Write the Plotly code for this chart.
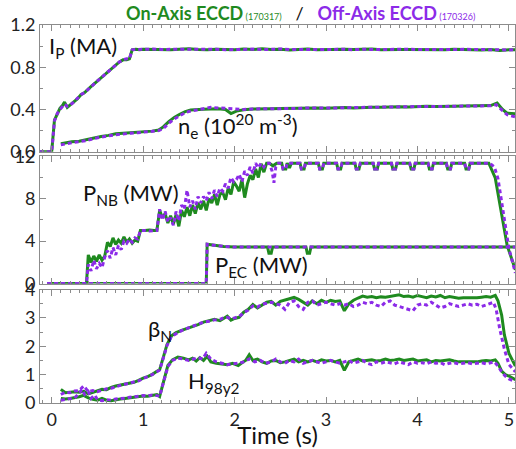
import plotly.graph_objects as go
from plotly.subplots import make_subplots

GREEN = "#1f8a1f"
PURPLE = "#8c2be8"
FONT = "Lato"

# ---------------- plasma current I_P (MA) ----------------
t_ip_on = [-0.13, 0.00, 0.03, 0.06, 0.09, 0.12, 0.14, 0.17, 0.20, 0.24, 0.28, 0.32, 0.36,
           0.42, 0.50, 0.58, 0.66, 0.74, 0.78, 0.82, 0.85, 0.88, 0.92, 0.96,
           1.0, 1.1, 1.2, 1.3, 1.4, 1.5, 1.6, 1.7, 1.8, 1.9, 2.0, 2.1, 2.2, 2.3, 2.4, 2.5,
           2.6, 2.7, 2.8, 2.9, 3.0, 3.1, 3.2, 3.3, 3.4, 3.5, 3.6, 3.7, 3.8, 3.9, 4.0,
           4.1, 4.2, 4.3, 4.4, 4.5, 4.6, 4.7, 4.8, 4.9, 5.0, 5.07]
ip_on = [0.0, 0.0, 0.30, 0.36, 0.41, 0.44, 0.47, 0.42, 0.44, 0.47, 0.50, 0.54, 0.56,
         0.61, 0.67, 0.73, 0.79, 0.85, 0.87, 0.87, 0.88, 0.965, 0.970, 0.965,
         0.970, 0.968, 0.972, 0.966, 0.970, 0.974, 0.968, 0.965, 0.971, 0.969, 0.966,
         0.972, 0.968, 0.975, 0.967, 0.970, 0.964, 0.969, 0.972, 0.966, 0.970, 0.968,
         0.971, 0.967, 0.969, 0.972, 0.966, 0.970, 0.968, 0.969, 0.967, 0.971, 0.968,
         0.966, 0.970, 0.967, 0.969, 0.963, 0.968, 0.958, 0.966, 0.965]

t_ip_off = [-0.13, 0.00, 0.03, 0.06, 0.09, 0.12, 0.14, 0.17, 0.20, 0.24, 0.28, 0.32, 0.36,
            0.42, 0.50, 0.58, 0.66, 0.74, 0.78, 0.82, 0.85, 0.88, 0.92, 0.96,
            1.0, 1.1, 1.2, 1.3, 1.4, 1.5, 1.6, 1.7, 1.8, 1.9, 2.0, 2.1, 2.2, 2.3, 2.4, 2.5,
            2.6, 2.7, 2.8, 2.9, 3.0, 3.1, 3.2, 3.3, 3.4, 3.5, 3.6, 3.7, 3.8, 3.9, 4.0,
            4.1, 4.2, 4.3, 4.4, 4.5, 4.6, 4.7, 4.8, 4.9, 5.0, 5.07]
ip_off = [0.0, 0.0, 0.29, 0.36, 0.40, 0.43, 0.45, 0.43, 0.44, 0.47, 0.51, 0.54, 0.56,
          0.61, 0.67, 0.73, 0.79, 0.85, 0.87, 0.88, 0.88, 0.965, 0.968, 0.970,
          0.966, 0.972, 0.969, 0.970, 0.965, 0.971, 0.973, 0.968, 0.970, 0.966, 0.971,
          0.969, 0.972, 0.967, 0.970, 0.973, 0.968, 0.966, 0.971, 0.969, 0.968, 0.972,
          0.970, 0.966, 0.971, 0.968, 0.969, 0.972, 0.967, 0.970, 0.968, 0.966, 0.971,
          0.969, 0.967, 0.970, 0.968, 0.966, 0.969, 0.967, 0.964, 0.966]

# ---------------- line-averaged density n_e (1e20 m^-3) ----------------
t_ne_on = [0.10, 0.15, 0.22, 0.30, 0.38, 0.46, 0.54, 0.62, 0.70, 0.78, 0.86, 0.94, 1.02,
           1.10, 1.17, 1.22, 1.28, 1.34, 1.40, 1.46, 1.52, 1.58, 1.66, 1.74, 1.82, 1.90,
           1.96, 2.02, 2.10, 2.20, 2.30, 2.40, 2.5, 2.6, 2.7, 2.8, 2.9, 3.0, 3.1, 3.2,
           3.3, 3.4, 3.5, 3.6, 3.7, 3.8, 3.9, 4.0, 4.1, 4.2, 4.3, 4.4, 4.5, 4.6, 4.7,
           4.80, 4.87, 4.93, 4.98, 5.07]
ne_on = [0.075, 0.085, 0.095, 0.100, 0.115, 0.135, 0.145, 0.155, 0.170, 0.175, 0.180,
         0.182, 0.188, 0.195, 0.205, 0.235, 0.285, 0.325, 0.355, 0.380, 0.395, 0.400,
         0.402, 0.405, 0.408, 0.400, 0.362, 0.385, 0.398, 0.405, 0.410, 0.408, 0.410,
         0.412, 0.408, 0.413, 0.415, 0.412, 0.416, 0.418, 0.415, 0.420, 0.422, 0.420,
         0.424, 0.426, 0.423, 0.428, 0.430, 0.428, 0.432, 0.430, 0.433, 0.432, 0.435,
         0.437, 0.462, 0.400, 0.365, 0.360]

t_ne_off = [0.10, 0.15, 0.22, 0.30, 0.38, 0.46, 0.54, 0.62, 0.70, 0.78, 0.86, 0.94, 1.02,
            1.10, 1.17, 1.22, 1.28, 1.34, 1.40, 1.46, 1.52, 1.58, 1.66, 1.74, 1.82, 1.90,
            1.96, 2.02, 2.10, 2.20, 2.30, 2.40, 2.5, 2.6, 2.7, 2.8, 2.9, 3.0, 3.1, 3.2,
            3.3, 3.4, 3.5, 3.6, 3.7, 3.8, 3.9, 4.0, 4.1, 4.2, 4.3, 4.4, 4.5, 4.6, 4.7,
            4.80, 4.86, 4.92, 4.98, 5.07]
ne_off = [0.065, 0.075, 0.085, 0.095, 0.105, 0.125, 0.140, 0.150, 0.160, 0.170, 0.175,
          0.180, 0.185, 0.190, 0.200, 0.220, 0.270, 0.310, 0.340, 0.370, 0.385, 0.395,
          0.405, 0.420, 0.415, 0.410, 0.405, 0.398, 0.400, 0.405, 0.405, 0.410, 0.408,
          0.411, 0.410, 0.414, 0.412, 0.415, 0.414, 0.417, 0.419, 0.416, 0.421, 0.420,
          0.423, 0.425, 0.424, 0.427, 0.429, 0.427, 0.431, 0.430, 0.432, 0.433, 0.434,
          0.435, 0.445, 0.400, 0.350, 0.330]

# ---------------- neutral beam power P_NB (MW) ----------------
t_pnb_on = [-0.05, 0.38, 0.40, 0.43, 0.46, 0.49, 0.52, 0.55, 0.58, 0.61, 0.64, 0.67, 0.70,
            0.73, 0.76, 0.79, 0.82, 0.85, 0.88, 0.91, 0.94, 0.97, 1.02, 1.07, 1.12, 1.15,
            1.18, 1.21, 1.24, 1.27, 1.30, 1.33, 1.36, 1.39, 1.42, 1.45, 1.48, 1.51, 1.54,
            1.57, 1.60, 1.63, 1.66, 1.69, 1.72, 1.75, 1.78, 1.81, 1.84, 1.87, 1.90, 1.93,
            1.96, 1.99, 2.02, 2.05, 2.08, 2.11, 2.14, 2.17, 2.20, 2.23, 2.26, 2.29, 2.32,
            2.35, 2.38, 2.42, 2.46, 2.50,
            2.515, 2.53, 2.56, 2.575, 2.60, 2.62, 2.64,
            2.715, 2.73, 2.76, 2.775,
            2.915, 2.93, 2.96, 2.975,
            3.115, 3.13, 3.16, 3.175,
            3.315, 3.33, 3.36, 3.375,
            3.515, 3.53, 3.56, 3.575,
            3.715, 3.73, 3.76, 3.775,
            3.915, 3.93, 3.96, 3.975,
            4.115, 4.13, 4.16, 4.175,
            4.315, 4.33, 4.36, 4.375,
            4.515, 4.53, 4.56, 4.575,
            4.78, 4.85, 4.98, 5.07]
pnb_on = [0.0, 0.0, 2.7, 2.0, 2.6, 2.1, 2.7, 2.2, 2.6, 3.9, 3.5, 4.3, 3.7,
          4.1, 3.8, 4.4, 3.9, 4.2, 3.8, 4.1, 4.0, 5.0, 5.0, 5.05, 5.0, 5.0,
          6.9, 6.2, 6.6, 5.7, 6.4, 5.6, 6.5, 5.4, 6.9, 6.3, 7.2, 6.4, 7.4,
          6.6, 7.6, 7.0, 7.8, 6.9, 8.0, 7.6, 8.4, 7.4, 8.4, 8.6, 7.9, 9.0,
          8.4, 9.6, 9.2, 8.7, 9.8, 8.1, 9.4, 10.2, 9.8, 10.8, 10.0, 11.3, 10.5,
          11.35, 11.35, 11.1, 11.35, 11.35,
          11.35, 10.8, 10.8, 11.35, 10.9, 11.35, 11.35,
          11.35, 10.8, 10.8, 11.35,
          11.35, 10.8, 10.8, 11.35,
          11.35, 10.8, 10.8, 11.35,
          11.35, 10.8, 10.8, 11.35,
          11.35, 10.8, 10.8, 11.35,
          11.35, 10.8, 10.8, 11.35,
          11.35, 10.8, 10.8, 11.35,
          11.35, 10.8, 10.8, 11.35,
          11.35, 10.8, 10.8, 11.35,
          11.35, 10.8, 10.8, 11.35,
          11.35, 9.95, 3.6, 1.3]

t_pnb_off = [-0.05, 0.38, 0.40, 0.43, 0.46, 0.49, 0.52, 0.55, 0.58, 0.61, 0.64, 0.67, 0.70,
             0.73, 0.76, 0.79, 0.82, 0.85, 0.88, 0.91, 0.94, 0.97, 1.02, 1.07, 1.12, 1.15,
             1.18, 1.21, 1.24, 1.27, 1.30, 1.33, 1.36, 1.39, 1.42, 1.45, 1.48, 1.51, 1.54,
             1.57, 1.60, 1.63, 1.66, 1.69, 1.72, 1.75, 1.78, 1.81, 1.84, 1.87, 1.90, 1.93,
             1.96, 1.99, 2.02, 2.05, 2.08, 2.11, 2.14, 2.17, 2.20, 2.23, 2.26, 2.29, 2.32,
             2.35, 2.38, 2.41, 2.43, 2.45, 2.48,
             2.515, 2.53, 2.56, 2.575,
             2.715, 2.73, 2.76, 2.775,
             2.915, 2.93, 2.96, 2.975,
             3.115, 3.13, 3.16, 3.175,
             3.315, 3.33, 3.36, 3.375,
             3.515, 3.53, 3.56, 3.575,
             3.715, 3.73, 3.76, 3.775,
             3.915, 3.93, 3.96, 3.975,
             4.115, 4.13, 4.16, 4.175,
             4.315, 4.33, 4.36, 4.375,
             4.515, 4.53, 4.56, 4.575,
             4.79, 4.84, 4.88, 5.00, 5.07]
pnb_off = [0.0, 0.0, 1.8, 1.2, 2.2, 1.4, 1.9, 1.5, 2.5, 3.1, 2.4, 3.4, 2.7,
           3.6, 3.2, 4.0, 3.8, 4.2, 3.9, 4.3, 4.2, 5.0, 5.0, 4.95, 5.0, 5.0,
           7.0, 6.0, 6.8, 5.8, 6.2, 5.5, 6.8, 5.9, 7.4, 7.0, 8.8, 7.2, 7.8,
           7.0, 8.2, 7.6, 8.2, 7.8, 8.6, 8.0, 8.8, 8.2, 9.0, 8.7, 9.4, 9.0,
           10.0, 9.6, 9.8, 10.3, 9.6, 10.6, 10.2, 11.0, 10.4, 11.35, 10.9, 11.35, 11.0,
           11.35, 11.35, 10.6, 9.5, 11.0, 11.35,
           11.35, 10.8, 10.8, 11.35,
           11.35, 10.8, 10.8, 11.35,
           11.35, 10.8, 10.8, 11.35,
           11.35, 10.8, 10.8, 11.35,
           11.35, 10.8, 10.8, 11.35,
           11.35, 10.8, 10.8, 11.35,
           11.35, 10.8, 10.8, 11.35,
           11.35, 10.8, 10.8, 11.35,
           11.35, 10.8, 10.8, 11.35,
           11.35, 10.8, 10.8, 11.35,
           11.35, 10.8, 10.8, 11.35,
           11.35, 11.0, 9.9, 3.3, 1.0]

# ---------------- electron cyclotron power P_EC (MW) ----------------
t_pec_on = [-0.05, 1.69, 1.70, 1.78, 1.88, 2.00, 2.36, 2.375, 2.40, 2.415,
            2.78, 2.795, 2.82, 2.835, 5.07]
pec_on = [0.0, 0.0, 3.7, 3.6, 3.5, 3.45, 3.45, 2.85, 2.85, 3.45,
          3.45, 2.85, 2.85, 3.45, 3.45]
t_pec_off = [-0.05, 1.69, 1.70, 1.78, 1.88, 2.00, 5.07]
pec_off = [0.0, 0.0, 3.7, 3.6, 3.5, 3.45, 3.45]

# ---------------- normalized beta beta_N ----------------
t_bn_on = [0.10, 0.15, 0.20, 0.25, 0.30, 0.35, 0.40, 0.45, 0.50, 0.55, 0.60, 0.65, 0.70,
           0.75, 0.80, 0.85, 0.90, 0.95, 1.00, 1.05, 1.10, 1.15, 1.18, 1.22, 1.26, 1.31,
           1.36, 1.42, 1.48, 1.54, 1.60, 1.66, 1.72, 1.78, 1.84, 1.88, 1.92, 1.96, 2.00,
           2.05, 2.10, 2.15, 2.20, 2.25, 2.30, 2.35, 2.40, 2.45, 2.50, 2.55, 2.60, 2.65,
           2.70, 2.75, 2.80, 2.85, 2.90, 2.95, 3.00, 3.05, 3.10, 3.15, 3.20, 3.25, 3.30,
           3.35, 3.40, 3.45, 3.50, 3.55, 3.60, 3.65, 3.70, 3.75, 3.80, 3.85, 3.90, 3.95,
           4.00, 4.05, 4.10, 4.15, 4.20, 4.25, 4.30, 4.35, 4.40, 4.45, 4.50, 4.55, 4.60,
           4.65, 4.70, 4.75, 4.80, 4.85, 4.88, 4.92, 4.95, 5.00, 5.07]
bn_on = [0.48, 0.36, 0.38, 0.40, 0.38, 0.41, 0.32, 0.38, 0.43, 0.48, 0.47, 0.55, 0.60,
         0.63, 0.66, 0.68, 0.73, 0.80, 0.88, 0.93, 1.01, 1.12, 1.17, 1.61, 2.05, 2.37,
         2.48, 2.56, 2.62, 2.68, 2.76, 2.85, 2.90, 2.95, 2.90, 2.98, 3.06, 2.92, 2.98,
         3.02, 3.20, 3.30, 3.47, 3.35, 3.45, 3.55, 3.58, 3.45, 3.58, 3.62, 3.68, 3.72,
         3.65, 3.55, 3.45, 3.60, 3.50, 3.62, 3.55, 3.62, 3.58, 3.60, 3.25, 3.50, 3.62,
         3.70, 3.77, 3.73, 3.75, 3.71, 3.74, 3.73, 3.75, 3.77, 3.81, 3.75, 3.77, 3.73,
         3.79, 3.75, 3.71, 3.77, 3.74, 3.79, 3.71, 3.75, 3.73, 3.69, 3.71, 3.71, 3.69,
         3.71, 3.73, 3.75, 3.73, 3.79, 3.60, 3.10, 2.40, 1.75, 1.30]

t_bn_off = [0.10, 0.15, 0.20, 0.25, 0.30, 0.35, 0.40, 0.45, 0.50, 0.55, 0.60, 0.65, 0.70,
            0.75, 0.80, 0.85, 0.90, 0.95, 1.00, 1.05, 1.10, 1.15, 1.18, 1.22, 1.26, 1.31,
            1.36, 1.42, 1.48, 1.54, 1.60, 1.66, 1.72, 1.78, 1.84, 1.88, 1.92, 1.96, 2.00,
            2.05, 2.10, 2.15, 2.20, 2.25, 2.30, 2.35, 2.40, 2.45, 2.50, 2.55, 2.60, 2.65,
            2.70, 2.75, 2.80, 2.85, 2.90, 2.95, 3.00, 3.05, 3.10, 3.15, 3.20, 3.25, 3.30,
            3.35, 3.40, 3.45, 3.50, 3.55, 3.60, 3.65, 3.70, 3.75, 3.80, 3.85, 3.90, 3.95,
            4.00, 4.05, 4.10, 4.15, 4.20, 4.25, 4.30, 4.35, 4.40, 4.45, 4.50, 4.55, 4.60,
            4.65, 4.70, 4.75, 4.80, 4.83, 4.86, 4.90, 4.95, 5.00, 5.07]
bn_off = [0.30, 0.38, 0.36, 0.42, 0.44, 0.60, 0.40, 0.44, 0.40, 0.46, 0.50, 0.52, 0.58,
          0.62, 0.66, 0.70, 0.74, 0.78, 0.86, 0.92, 1.00, 1.10, 1.16, 1.58, 2.02, 2.35,
          2.45, 2.55, 2.63, 2.70, 2.78, 2.85, 2.88, 2.93, 2.95, 3.00, 3.02, 2.96, 3.00,
          3.05, 3.18, 3.28, 3.42, 3.38, 3.48, 3.52, 3.55, 3.50, 3.45, 3.30, 3.55, 3.60,
          3.40, 3.30, 3.55, 3.60, 3.45, 3.50, 3.55, 3.50, 3.45, 3.50, 3.45, 3.50, 3.40,
          3.45, 3.55, 3.50, 3.55, 3.45, 3.40, 3.55, 3.60, 3.45, 3.40, 3.35, 3.30, 3.25,
          3.45, 3.50, 3.45, 3.55, 3.45, 3.35, 3.40, 3.50, 3.45, 3.40, 3.45, 3.50, 3.45,
          3.48, 3.40, 3.45, 3.50, 3.55, 3.30, 2.60, 1.90, 1.35, 1.10]

# ---------------- confinement factor H_98y2 ----------------
t_h_on = [0.10, 0.15, 0.20, 0.25, 0.30, 0.35, 0.40, 0.45, 0.50, 0.55, 0.60, 0.65, 0.70,
          0.75, 0.80, 0.85, 0.90, 0.95, 1.00, 1.05, 1.10, 1.15, 1.18, 1.22, 1.27, 1.32,
          1.38, 1.44, 1.50, 1.54, 1.58, 1.62, 1.66, 1.70, 1.74, 1.80, 1.86, 1.92, 1.98,
          2.04, 2.08, 2.12, 2.16, 2.20, 2.25, 2.30, 2.35, 2.40, 2.45, 2.50, 2.55, 2.60,
          2.65, 2.70, 2.75, 2.80, 2.85, 2.90, 2.95, 3.00, 3.05, 3.10, 3.15, 3.20, 3.25,
          3.30, 3.35, 3.40, 3.45, 3.50, 3.55, 3.60, 3.65, 3.70, 3.75, 3.80, 3.85, 3.90,
          3.95, 4.00, 4.05, 4.10, 4.15, 4.20, 4.25, 4.30, 4.35, 4.40, 4.45, 4.50, 4.55,
          4.60, 4.65, 4.70, 4.75, 4.80, 4.85, 4.88, 4.92, 4.96, 5.00, 5.07]
h_on = [0.16, 0.14, 0.16, 0.18, 0.22, 0.27, 0.18, 0.13, 0.10, 0.16, 0.10, 0.08, 0.12,
        0.14, 0.16, 0.18, 0.20, 0.23, 0.25, 0.24, 0.26, 0.30, 0.23, 0.75, 1.32, 1.52,
        1.62, 1.58, 1.52, 1.58, 1.48, 1.60, 1.50, 1.65, 1.45, 1.40, 1.38, 1.35, 1.40,
        1.32, 1.42, 1.50, 1.70, 1.50, 1.55, 1.45, 1.40, 1.48, 1.50, 1.42, 1.45, 1.50,
        1.55, 1.45, 1.50, 1.45, 1.50, 1.45, 1.52, 1.48, 1.50, 1.45, 1.50, 1.15, 1.45,
        1.50, 1.55, 1.48, 1.50, 1.52, 1.48, 1.50, 1.55, 1.50, 1.52, 1.55, 1.50, 1.52,
        1.55, 1.48, 1.50, 1.52, 1.45, 1.50, 1.48, 1.50, 1.52, 1.48, 1.45, 1.45, 1.45,
        1.47, 1.45, 1.48, 1.50, 1.48, 1.52, 1.40, 1.12, 1.00, 0.95, 0.82]

t_h_off = [0.10, 0.15, 0.20, 0.25, 0.30, 0.33, 0.36, 0.40, 0.43, 0.47, 0.50, 0.55, 0.60,
           0.65, 0.70, 0.75, 0.80, 0.85, 0.90, 0.95, 1.00, 1.05, 1.10, 1.15, 1.18, 1.22,
           1.27, 1.32, 1.38, 1.44, 1.50, 1.55, 1.60, 1.65, 1.69, 1.74, 1.80, 1.86, 1.92,
           1.98, 2.04, 2.10, 2.16, 2.22, 2.28, 2.34, 2.40, 2.45, 2.50, 2.55, 2.60, 2.65,
           2.70, 2.75, 2.80, 2.85, 2.90, 2.95, 3.00, 3.05, 3.10, 3.15, 3.20, 3.25, 3.30,
           3.35, 3.40, 3.45, 3.50, 3.55, 3.60, 3.65, 3.70, 3.75, 3.80, 3.85, 3.90, 3.95,
           4.00, 4.05, 4.10, 4.15, 4.20, 4.25, 4.30, 4.35, 4.40, 4.45, 4.50, 4.55, 4.60,
           4.65, 4.70, 4.75, 4.80, 4.84, 4.88, 4.92, 4.96, 5.00, 5.07]
h_off = [0.10, 0.12, 0.14, 0.18, 0.34, 0.48, 0.30, 0.40, 0.16, 0.28, 0.12, 0.08, 0.12,
         0.10, 0.14, 0.15, 0.17, 0.20, 0.22, 0.24, 0.26, 0.25, 0.28, 0.26, 0.24, 0.70,
         1.28, 1.50, 1.58, 1.55, 1.50, 1.55, 1.60, 1.55, 1.75, 1.55, 1.45, 1.40, 1.35,
         1.38, 1.40, 1.45, 1.55, 1.45, 1.50, 1.40, 1.45, 1.55, 1.45, 1.40, 1.50, 1.45,
         1.55, 1.40, 1.45, 1.50, 1.45, 1.40, 1.45, 1.50, 1.45, 1.40, 1.45, 1.50, 1.40,
         1.45, 1.50, 1.40, 1.35, 1.45, 1.40, 1.45, 1.42, 1.38, 1.45, 1.40, 1.35, 1.45,
         1.40, 1.42, 1.38, 1.45, 1.40, 1.42, 1.35, 1.40, 1.42, 1.38, 1.40, 1.42, 1.38,
         1.40, 1.42, 1.38, 1.42, 1.45, 1.30, 1.10, 0.95, 0.85, 0.75]

# axis settings
x_range = [-0.128, 5.066]
x_ticks = [0, 1, 2, 3, 4, 5]
ranges = {1: [0, 1.2], 2: [0, 12], 3: [0, 4]}
y_ticks = {1: [0.0, 0.4, 0.8, 1.2], 2: [0, 4, 8, 12], 3: [0, 1, 2, 3, 4]}
y_ticktext = {1: ["0.0", "0.4", "0.8", "1.2"], 2: ["0", "4", "8", "12"],
              3: ["0", "1", "2", "3", "4"]}
y_minor = {1: 0.2, 2: 2, 3: 0.5}

W, H = 516, 449
ML, MR, MT, MB = 40, 0, 25, 41
PW, PH = W - ML - MR, H - MT - MB


def py(p):
    return (H - MB - p) / PH


def px(p):
    return (p - ML) / PW


fig = make_subplots(rows=3, cols=1, shared_xaxes=True, vertical_spacing=0.0)

solid = dict(color=GREEN, width=3)
dashed = dict(color=PURPLE, width=3, dash="4px,3px")

panels = [
    (1, [(t_ip_on, ip_on, t_ip_off, ip_off), (t_ne_on, ne_on, t_ne_off, ne_off)]),
    (2, [(t_pnb_on, pnb_on, t_pnb_off, pnb_off), (t_pec_on, pec_on, t_pec_off, pec_off)]),
    (3, [(t_bn_on, bn_on, t_bn_off, bn_off), (t_h_on, h_on, t_h_off, h_off)]),
]
for row, pairs in panels:
    for ton, von, toff, voff in pairs:
        fig.add_trace(go.Scatter(x=ton, y=von, mode="lines", line=solid,
                                 showlegend=False, hoverinfo="skip"), row=row, col=1)
    for ton, von, toff, voff in pairs:
        fig.add_trace(go.Scatter(x=toff, y=voff, mode="lines", line=dashed,
                                 showlegend=False, hoverinfo="skip"), row=row, col=1)

frame = "#8c8c8c"
domains = {1: [py(153.4), 1.0], 2: [py(287), py(158)], 3: [0.0, py(293)]}
for row in (1, 2, 3):
    fig.update_xaxes(range=x_range, tickvals=x_ticks, ticks="inside", ticklen=6,
                     tickcolor=frame, showline=True, linecolor=frame, linewidth=1,
                     mirror="ticks", showgrid=False, zeroline=False,
                     minor=dict(dtick=0.1, ticks="inside", ticklen=3, tickcolor=frame),
                     showticklabels=(row == 3),
                     tickfont=dict(family=FONT, size=18, color="#222"),
                     row=row, col=1)
    fig.update_yaxes(range=ranges[row], domain=domains[row], tickvals=y_ticks[row],
                     ticktext=y_ticktext[row], ticks="inside", ticklen=6,
                     tickcolor=frame, showline=True, linecolor=frame, linewidth=1,
                     mirror="ticks", showgrid=False, zeroline=False,
                     minor=dict(dtick=y_minor[row], ticks="inside", ticklen=3,
                                tickcolor=frame),
                     tickfont=dict(family=FONT, size=18, color="#222"),
                     row=row, col=1)

fig.update_xaxes(title=dict(text="Time (s)", font=dict(family=FONT, size=24, color="#111"),
                            standoff=3), row=3, col=1)

labels = [
    ("I<sub>P</sub> (MA)", 47, 47),
    ("n<sub>e</sub> (10<sup>20</sup> m<sup>-3</sup>)", 176, 127),
    ("P<sub>NB</sub> (MW)", 81, 196),
    ("P<sub>EC</sub> (MW)", 213, 269),
    ("β<sub>N</sub>", 146, 334),
    ("H<sub>98y2</sub>", 186, 387),
]
for text, lx, ly in labels:
    fig.add_annotation(text=text, x=px(lx), y=py(ly), xref="paper", yref="paper",
                       xanchor="left", yanchor="middle", showarrow=False,
                       font=dict(family=FONT, size=22, color="#111"))

title = (f'<b><span style="color:{GREEN}">On-Axis ECCD</span></b>'
         f'<span style="color:{GREEN};font-size:9px"> (170317)</span>'
         '<span style="color:#111">   /   </span>'
         f'<b><span style="color:{PURPLE}">Off-Axis ECCD</span></b>'
         f'<span style="color:{PURPLE};font-size:9px"> (170326)</span>')
fig.add_annotation(text=title, x=px(301), y=py(13), xref="paper", yref="paper",
                   xanchor="center", yanchor="middle", showarrow=False,
                   font=dict(family=FONT, size=18))

fig.update_layout(width=W, height=H, margin=dict(l=ML, r=MR, t=MT, b=MB),
                  paper_bgcolor="white", plot_bgcolor="white")

fig.write_html("out.html")
